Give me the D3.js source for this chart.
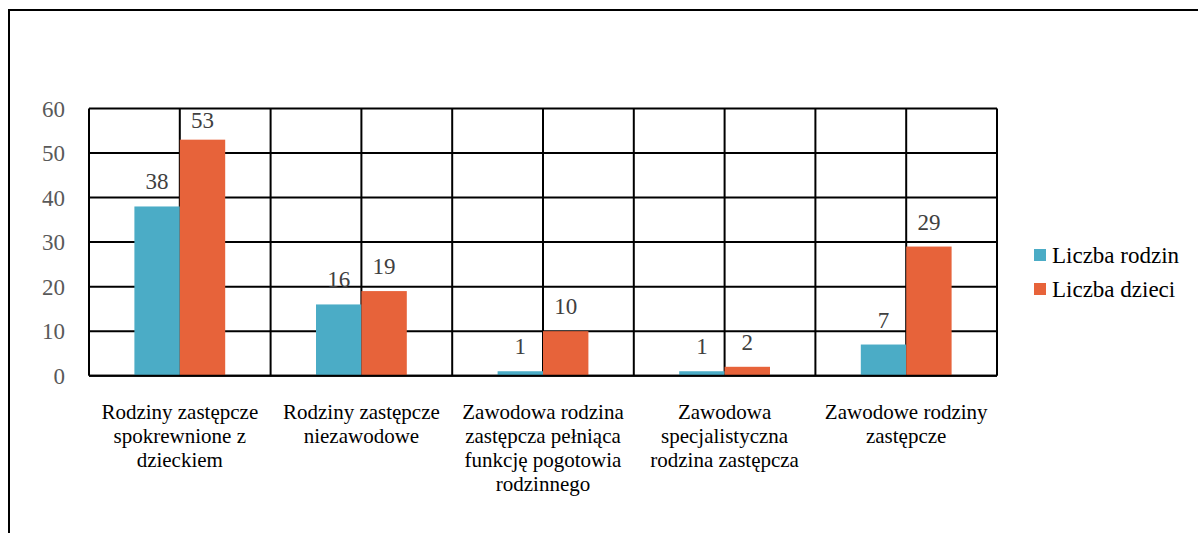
<!doctype html>
<html>
  <head>
    <meta charset="utf-8">
    <script src="https://cdnjs.cloudflare.com/ajax/libs/d3/7.8.5/d3.min.js"></script>
  </head>
  <body style="margin:0">
    <script>
      // data (\n = line break in the axis label)
      const categories = [
        "Rodziny zastępcze\nspokrewnione z\ndzieckiem",
        "Rodziny zastępcze\nniezawodowe",
        "Zawodowa rodzina\nzastępcza pełniąca\nfunkcję pogotowia\nrodzinnego",
        "Zawodowa\nspecjalistyczna\nrodzina zastępcza",
        "Zawodowe rodziny\nzastępcze"
      ];
      const seriesNames = ["Liczba rodzin", "Liczba dzieci"];
      const rodzin = [38, 16, 1, 1, 7];
      const dzieci = [53, 19, 10, 2, 29];
      const yTicks = [0, 10, 20, 30, 40, 50, 60];
      const colors = ["#4BACC6", "#E7633A"];

      const width = 1198, height = 533;
      const plot = {left: 89, right: 997, top: 108.5, bottom: 375.7};
      const fam = () => "'Liberation Serif'";

      const svg = d3.select("body").append("svg")
        .attr("width", width)
        .attr("height", height);

      // outer frame (right / bottom edges are outside the picture)
      svg.append("rect")
        .attr("x", 9).attr("y", 10)
        .attr("width", 1300).attr("height", 600)
        .attr("fill", "none")
        .attr("stroke", "#000")
        .attr("stroke-width", 2);

      const x = d3.scaleBand()
        .domain(categories)
        .range([plot.left, plot.right]);
      const bw = x.bandwidth();

      const xs = d3.scaleBand()
        .domain(seriesNames)
        .range([bw / 4, bw * 3 / 4]);

      const y = d3.scaleLinear()
        .domain([0, 60])
        .range([plot.bottom, plot.top]);

      // grid: horizontal lines
      svg.append("g")
        .selectAll("line")
        .data(yTicks)
        .join("line")
        .attr("x1", plot.left).attr("x2", plot.right)
        .attr("y1", d => y(d)).attr("y2", d => y(d))
        .attr("stroke", "#000")
        .attr("stroke-width", 2);

      // grid: vertical lines at category edges and centres
      let vx = [];
      categories.forEach(c => { vx.push(x(c)); vx.push(x(c) + bw / 2); });
      vx.push(plot.right);
      svg.append("g")
        .selectAll("line")
        .data(vx)
        .join("line")
        .attr("x1", d => d).attr("x2", d => d)
        .attr("y1", plot.top).attr("y2", plot.bottom)
        .attr("stroke", "#000")
        .attr("stroke-width", 2);

      // bars
      const rows = categories.map((c, i) => ({cat: c, vals: [rodzin[i], dzieci[i]]}));
      const groups = svg.append("g")
        .selectAll("g")
        .data(rows)
        .join("g")
        .attr("transform", d => "translate(" + x(d.cat) + ",0)");

      groups.selectAll("rect")
        .data(d => d.vals.map((v, k) => ({name: seriesNames[k], v: v, k: k})))
        .join("rect")
        .attr("x", d => xs(d.name))
        .attr("width", xs.bandwidth())
        .attr("y", d => y(d.v))
        .attr("height", d => y(0) - y(d.v))
        .attr("fill", d => colors[d.k]);

      // value labels
      groups.selectAll("text")
        .data(d => d.vals.map((v, k) => ({name: seriesNames[k], v: v, k: k})))
        .join("text")
        .attr("x", d => xs(d.name) + xs.bandwidth() / 2)
        .attr("y", d => Math.max(y(d.v) - 17, plot.top + 19.5))
        .attr("text-anchor", "middle")
        .attr("font-size", 23)
        .style("font-family", fam)
        .attr("fill", "#404040")
        .text(d => d.v);

      // bottom axis line redrawn on top of bars
      svg.append("line")
        .attr("x1", plot.left).attr("x2", plot.right)
        .attr("y1", y(0)).attr("y2", y(0))
        .attr("stroke", "#000")
        .attr("stroke-width", 2);

      // y tick labels
      svg.append("g")
        .selectAll("text")
        .data(yTicks)
        .join("text")
        .attr("x", 65)
        .attr("y", d => y(d) + 8)
        .attr("text-anchor", "end")
        .attr("font-size", 23)
        .style("font-family", fam)
        .attr("fill", "#595959")
        .text(d => d);

      // category labels, one text per line
      const catLines = [];
      categories.forEach(c => c.split("\n").forEach((ln, i) => catLines.push({c: c, ln: ln, i: i})));
      svg.append("g")
        .selectAll("text")
        .data(catLines)
        .join("text")
        .attr("x", d => x(d.c) + bw / 2)
        .attr("y", d => 419 + d.i * 24)
        .attr("text-anchor", "middle")
        .attr("font-size", 21)
        .style("font-family", fam)
        .attr("fill", "#000")
        .text(d => d.ln);

      // legend
      svg.append("g")
        .selectAll("rect")
        .data(seriesNames)
        .join("rect")
        .attr("x", 1034)
        .attr("y", (d, i) => 249 + i * 34)
        .attr("width", 12).attr("height", 12)
        .attr("fill", (d, i) => colors[i]);
      svg.append("g")
        .selectAll("text")
        .data(seriesNames)
        .join("text")
        .attr("x", 1052)
        .attr("y", (d, i) => 263 + i * 34)
        .attr("font-size", 23)
        .style("font-family", fam)
        .attr("fill", "#000")
        .text(d => d);
    </script>
  </body>
</html>
